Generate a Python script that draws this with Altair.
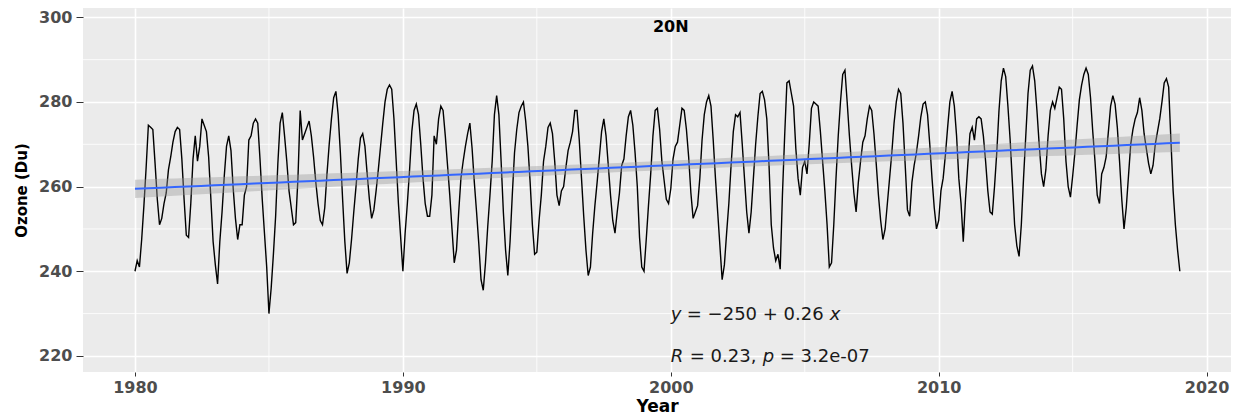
import altair as alt
import numpy as np
import pandas as pd

# Monthly total-column ozone at 20N (Dobson units), January 1980 onward
ozone_1980s = [
    240, 242.5, 241, 247.5, 255.5, 264.5, 274.5, 274, 273.5, 265.5, 257, 251,
    252.5, 256, 258.5, 264, 267, 270.5, 273, 274, 273.5, 266.5, 257, 248.5,
    248, 256, 266.5, 272, 266, 269.5, 276, 274.5, 273, 267, 257, 247,
    241.5, 237, 247, 254, 262.5, 269.5, 272, 268.5, 259.5, 252.5, 247.5, 251,
    251, 258, 260, 271, 272, 275, 276, 275, 266.5, 257, 249, 241,
    230, 236, 244, 253, 265.5, 275, 277.5, 272, 266, 259, 255, 251,
    251.5, 262, 278, 271, 272.5, 274, 275.5, 272, 267, 261, 256, 252,
    251, 255, 263, 270, 276, 281, 282.5, 277, 268, 257, 247, 239.5,
    242, 247.5, 254, 260, 266.5, 271.5, 272.5, 269.5, 263, 257, 252.5, 254.5,
    259, 264, 269.5, 275, 280, 283, 284, 283, 276, 266, 256, 248,
]
ozone_1990s = [
    240, 249, 256, 264, 273, 278, 279.5, 277, 270, 262, 256, 253,
    253, 258, 272, 270, 276, 279, 278, 272, 265, 258, 250, 242,
    245, 254, 262, 266, 269.5, 272.5, 275, 269, 261, 254, 246.5, 238,
    235.5, 242, 250.5, 258, 266, 277, 281.5, 277, 266, 254, 245, 239,
    247, 258, 268, 273.5, 277.5, 279, 280, 275.5, 269.5, 261, 251, 244,
    244.5, 252, 258, 266, 269.5, 274, 275, 272.5, 266, 258, 255.5, 259,
    260, 264.5, 268.5, 270.5, 273, 278, 278, 271, 262, 253, 245, 239,
    241, 249, 255.5, 261, 267, 273, 276, 272, 265, 258, 252, 249,
    254, 258.5, 265, 266.5, 272, 276.5, 278, 274.5, 268, 260, 248, 241,
    240, 247.5, 255.5, 263, 272, 278, 278.5, 273.5, 266, 261.5, 257, 256,
]
ozone_2000s = [
    259.5, 266.5, 269.5, 270.5, 274.5, 278.5, 278, 273.5, 267, 258.5, 252.5, 254,
    255.5, 262, 271, 277, 280, 281.5, 279, 271, 262, 254, 246, 238,
    241.5, 249, 256, 265, 273, 277, 276.5, 277.5, 270, 262, 254, 249,
    254, 262, 270, 276.5, 282, 282.5, 280.5, 276, 265, 251, 245.5, 242.5,
    244, 240.5, 258, 272, 284.5, 285, 282, 279, 269, 262, 258, 264.5,
    266, 263, 270, 278.5, 280, 279.5, 279, 273, 266, 259, 251, 241,
    242, 251, 262, 272, 280, 286.5, 287.5, 280, 272, 265, 258.5, 254,
    261, 266, 270.5, 272, 276, 279, 278, 272.5, 265.5, 258, 252, 247.5,
    250, 256, 262, 268, 275, 280, 283, 282, 275, 265, 254.5, 253,
    261, 265, 268, 272, 276.5, 279.5, 280, 277, 270, 262, 255, 250,
]
ozone_2010s = [
    252, 259, 262, 267.5, 274, 280, 282.5, 279, 272, 262, 256, 247,
    257, 265, 272.5, 274, 271, 276, 276.5, 276, 272, 266, 259, 254,
    253.5, 260, 268, 278, 285, 288, 286, 279, 271, 261, 251, 246,
    243.5, 251, 262, 272, 282, 287.5, 288.5, 285, 278, 270, 263, 260,
    264, 272, 278, 280, 278.5, 281, 283.5, 283, 276, 266, 260, 257.5,
    262.5, 268, 274.5, 280.5, 284, 286.5, 288, 286.5, 281, 273, 266, 258,
    256, 263, 264.5, 267, 273, 279, 281.5, 279.5, 274, 266, 257, 250,
    255, 262.5, 270, 273.5, 276, 277.5, 281, 278, 272.5, 269, 265.5, 263,
    265, 270, 273, 276, 280, 284.5, 285.5, 283.5, 271, 259, 251, 245,
    240,
]

# Gridline and tick positions
major_years = [1980, 1990, 2000, 2010, 2020]
minor_years = [1985, 1995, 2005, 2015]
major_ozone = [220, 240, 260, 280, 300]
minor_ozone = [230, 250, 270, 290]

values = ozone_1980s + ozone_1990s + ozone_2000s + ozone_2010s
years = 1980 + np.arange(len(values)) / 12.0
series = pd.DataFrame({"year": years, "ozone": values})

# Ordinary least-squares trend with a 95% confidence band
x = series["year"].to_numpy()
y = series["ozone"].to_numpy(dtype=float)
n = len(x)
slope, intercept = np.polyfit(x, y, 1)
resid = y - (intercept + slope * x)
s = np.sqrt((resid ** 2).sum() / (n - 2))
xbar = x.mean()
sxx = ((x - xbar) ** 2).sum()
grid = np.linspace(x.min(), x.max(), 80)
se = s * np.sqrt(1.0 / n + (grid - xbar) ** 2 / sxx)
t_crit = 1.965
trend = pd.DataFrame({
    "year": grid,
    "fit": intercept + slope * grid,
    "lo": intercept + slope * grid - t_crit * se,
    "hi": intercept + slope * grid + t_crit * se,
})

xscale = alt.Scale(domain=[1978.06, 2020.91], nice=False, zero=False)
yscale = alt.Scale(domain=[216.2, 302.2], nice=False, zero=False)

LABEL_FONT = "DejaVu Sans"

xaxis = alt.Axis(
    values=major_years, format="d", title="Year",
    grid=True, gridColor="white", gridWidth=1.6,
    domain=False, tickColor="#333333", tickSize=4, tickWidth=1,
    labelFont=LABEL_FONT, labelFontSize=16, labelFontWeight="bold",
    labelColor="#4D4D4D", labelPadding=3, labelOverlap=False, labelFlush=False,
    titleFont=LABEL_FONT, titleFontSize=17, titleFontWeight="bold",
    titleColor="black", titlePadding=3,
)
yaxis = alt.Axis(
    values=major_ozone, format="d", title="Ozone (Du)",
    grid=True, gridColor="white", gridWidth=1.6,
    domain=False, tickColor="#333333", tickSize=7, tickWidth=1,
    labelFont=LABEL_FONT, labelFontSize=16, labelFontWeight="bold",
    labelColor="#4D4D4D", labelPadding=4, labelOverlap=False, labelFlush=False,
    titleFont=LABEL_FONT, titleFontSize=15, titleFontWeight="bold",
    titleColor="black", titlePadding=9, titleLimit=200,
)


def X(field):
    return alt.X(field, scale=xscale, axis=xaxis)


def Y(field):
    return alt.Y(field, scale=yscale, axis=yaxis)


minor_x = alt.Chart(pd.DataFrame({"year": minor_years})).mark_rule(
    color="white", strokeWidth=0.8
).encode(x=X("year:Q"))

minor_y = alt.Chart(pd.DataFrame({"ozone": minor_ozone})).mark_rule(
    color="white", strokeWidth=0.8
).encode(y=Y("ozone:Q"))

line = alt.Chart(series).mark_line(
    color="black", strokeWidth=1.4
).encode(x=X("year:Q"), y=Y("ozone:Q"))

band = alt.Chart(trend).mark_area(color="#999999", opacity=0.4).encode(
    x=X("year:Q"), y=Y("lo:Q"), y2="hi:Q",
)

fit_line = alt.Chart(trend).mark_line(color="#3366FF", strokeWidth=2).encode(
    x=X("year:Q"), y=Y("fit:Q"),
)


def label(text, year, level, dx=0, italic=False, size=18, bold=False,
          align="left", baseline="alphabetic", color="#1a1a1a"):
    kw = dict(text=text, dx=dx, align=align, baseline=baseline,
              font=LABEL_FONT, fontSize=size, color=color)
    if italic:
        kw["fontStyle"] = "italic"
    if bold:
        kw["fontWeight"] = "bold"
    return alt.Chart(pd.DataFrame({"year": [year], "ozone": [level]})).mark_text(
        **kw
    ).encode(x=X("year:Q"), y=Y("ozone:Q"))


title = label("20N", 2000, 297.8, align="center", baseline="middle",
              size=16, bold=True, color="black")

eq_level = 228.6
stat_level = 218.6
equation = [
    label("y", 2000, eq_level, dx=0, italic=True),
    label("= \u2212250 + 0.26", 2000, eq_level, dx=16),
    label("x", 2000, eq_level, dx=159, italic=True),
]
stats = [
    label("R", 2000, stat_level, dx=0, italic=True),
    label("= 0.23,", 2000, stat_level, dx=19),
    label("p", 2000, stat_level, dx=92, italic=True),
    label("= 3.2e-07", 2000, stat_level, dx=109),
]

chart = alt.layer(
    minor_x, minor_y, line, band, fit_line, title, *equation, *stats
).properties(
    width=1148, height=364,
    autosize="none",
    padding={"left": 83, "top": 8, "right": 10, "bottom": 45},
    background="white",
).configure_view(
    fill="#EBEBEB", stroke=None
)

chart.save("out.html", embed_options={"renderer": "svg", "actions": False})
